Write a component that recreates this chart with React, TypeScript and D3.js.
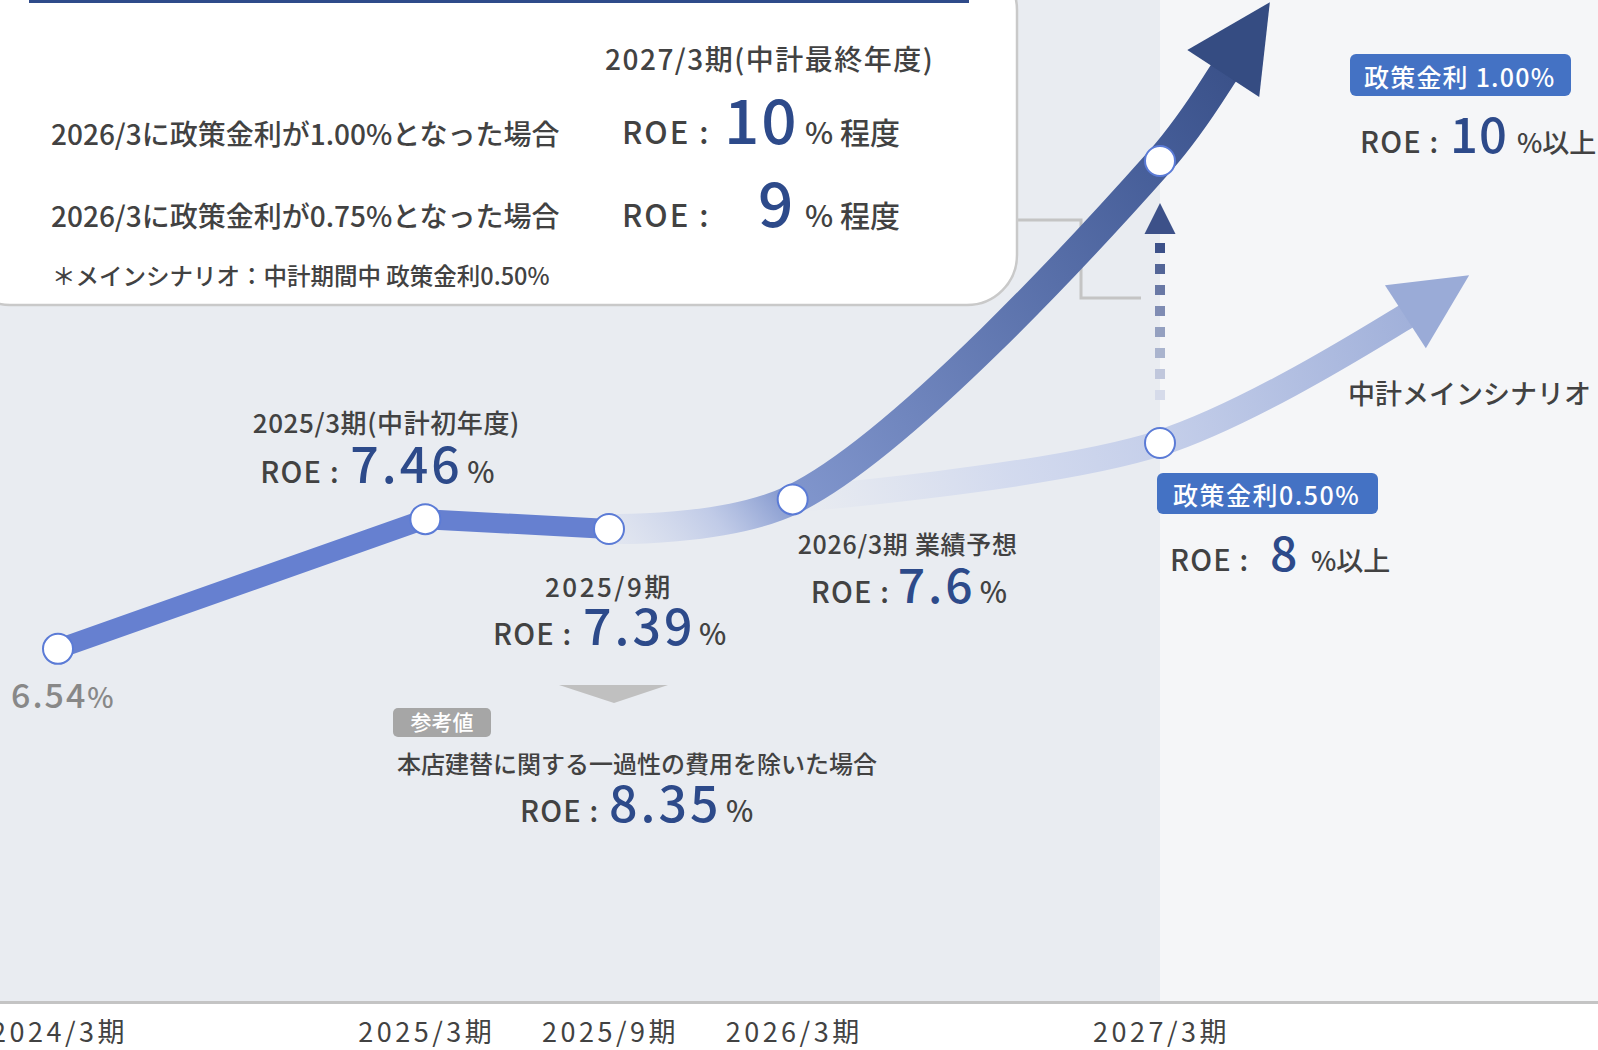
import React from 'react';
import * as d3 from 'd3';

// ---------- data ----------
const periodLabels = ['2024/3期', '2025/3期', '2025/9期', '2026/3期', '2027/3期'];
const periodMonths = [0, 12, 18, 24, 36]; // months since 2024/3
const actualRoe = [6.54, 7.46, 7.39]; // 2024/3, 2025/3, 2025/9
const forecastRoe = 7.6; // 2026/3 forecast
const mainTargetRoe = 8; // 2027/3, policy rate 0.50%
const upsideTargetRoe = 10; // 2027/3, policy rate 1.00%
const adjustedRoe = 8.35; // 2025/9 excluding one-off HQ rebuild costs
const scenarioRates = ['1.00%', '0.75%'];
const scenarioRoe = [10, 9];
const policyRateLabels = ['政策金利 1.00%', '政策金利0.50%'];

const W = 1598;
const H = 1050;
const FONT = '"Noto Sans CJK JP", "Noto Sans", sans-serif';
const TXT = '#424242';
const NUM = '#2d4a8a';

type Pt = [number, number];

function arrowGeom(from: Pt, at: Pt, bendDeg: number, baseLen: number, headBendDeg: number,
  headLen: number, headHalf: number) {
  const chord = Math.atan2(at[1] - from[1], at[0] - from[0]);
  const a = chord - (bendDeg * Math.PI) / 180;
  const base: Pt = [at[0] + baseLen * Math.cos(a), at[1] + baseLen * Math.sin(a)];
  const h = a - (headBendDeg * Math.PI) / 180;
  const tip: Pt = [base[0] + headLen * Math.cos(h), base[1] + headLen * Math.sin(h)];
  const nx = -Math.sin(h);
  const ny = Math.cos(h);
  const w1: Pt = [base[0] + nx * headHalf, base[1] + ny * headHalf];
  const w2: Pt = [base[0] - nx * headHalf, base[1] - ny * headHalf];
  const inner: Pt = [base[0] + 8 * Math.cos(h), base[1] + 8 * Math.sin(h)];
  return { base, tip, head: [tip, w1, w2] as Pt[], inner };
}

function frac(p: Pt, a: Pt, b: Pt) {
  const dx = b[0] - a[0];
  const dy = b[1] - a[1];
  return ((p[0] - a[0]) * dx + (p[1] - a[1]) * dy) / (dx * dx + dy * dy);
}

type RoeOpts = {
  sx: number; by: number; num: string; numDx: number; pctDx: number;
  numSize: number; numLs: number; pct: string; pctSize: number;
};

function RoeLine({ sx, by, num, numDx, pctDx, numSize, numLs, pct, pctSize }: RoeOpts) {
  return (
    <g fontFamily={FONT} fontWeight={500}>
      <text x={sx} y={by} fontSize={29} letterSpacing={1.2} fill={TXT}>ROE :</text>
      <text x={sx + numDx} y={by} fontSize={numSize} letterSpacing={numLs} fill={NUM}>{num}</text>
      <text x={sx + pctDx} y={by} fontSize={pctSize} fill={TXT}>{pct}</text>
    </g>
  );
}

export default function App() {
  const x = d3.scaleLinear().domain([0, 36]).range([58, 1160]);
  const y = d3.scaleLinear().domain([6, 10]).range([725, 161]);

  const P: Pt[] = actualRoe.map((v, i) => [x(periodMonths[i]), y(v)] as Pt);
  const P3: Pt = [x(periodMonths[3]), y(forecastRoe)];
  const Pd: Pt = [x(periodMonths[4]), y(upsideTargetRoe)];
  const Pl: Pt = [x(periodMonths[4]), y(mainTargetRoe)];
  const P2 = P[2];

  const curve = d3.line<Pt>().curve(d3.curveCatmullRom.alpha(0.5));

  const dark = arrowGeom(P3, Pd, 11.5, 108, 2.6, 85, 43);
  const light = arrowGeom(P3, Pl, 18.5, 276, 5.8, 76, 37.5);

  const darkPath = curve([P2, P3, Pd, dark.base, dark.inner]) || '';
  const lightPath = curve([P3, Pl, light.base, light.inner]) || '';
  const solidPath = d3.line<Pt>()(P) || '';

  const t3 = frac(P3, P2, dark.tip);
  const td = frac(Pd, P2, dark.tip);
  const tl = frac(Pl, P3, light.tip);

  // dotted arrow between the two 2027/3 points
  const triTop = Pd[1] + 42;
  const triBase = Pd[1] + 73;
  const sqStart = Pd[1] + 82;
  const sqEnd = Pl[1] - 39;
  const nSq = Math.max(1, Math.floor((sqEnd - sqStart - 10) / 21) + 1);
  const sqColor = d3.interpolateRgb('#3d5189', '#d6dbea');

  const xBase = 1002;
  const mainLabelX = Math.min(light.base[0] - 42, W - 250);

  return (
    <div style={{ position: 'absolute', left: 0, top: 0 }}>
      <svg width={W} height={H} viewBox={`0 0 ${W} ${H}`} style={{ display: 'block' }}>
        <defs>
          <linearGradient id="darkGrad" gradientUnits="userSpaceOnUse"
            x1={P2[0]} y1={P2[1]} x2={dark.tip[0]} y2={dark.tip[1]}>
            <stop offset={0} stopColor="#c9d2ec" stopOpacity={0.25} />
            <stop offset={t3 * 0.55} stopColor="#b3c0e4" stopOpacity={0.75} />
            <stop offset={t3} stopColor="#8196cd" stopOpacity={1} />
            <stop offset={td} stopColor="#455d98" stopOpacity={1} />
            <stop offset={1} stopColor="#344a80" stopOpacity={1} />
          </linearGradient>
          <linearGradient id="lightGrad" gradientUnits="userSpaceOnUse"
            x1={P3[0]} y1={P3[1]} x2={light.tip[0]} y2={light.tip[1]}>
            <stop offset={0} stopColor="#d3daee" stopOpacity={0} />
            <stop offset={0.3} stopColor="#d0d8ee" stopOpacity={0.9} />
            <stop offset={tl} stopColor="#c5cfea" stopOpacity={1} />
            <stop offset={1} stopColor="#98a9d6" stopOpacity={1} />
          </linearGradient>
        </defs>

        {/* backgrounds */}
        <rect x={0} y={0} width={W} height={H} fill="#ffffff" />
        <rect x={0} y={0} width={x(36)} height={xBase} fill="#e9ecf1" />
        <rect x={x(36)} y={0} width={W - x(36)} height={xBase} fill="#f5f6f8" />
        <rect x={0} y={xBase - 1} width={W} height={3} fill="#c4c4c4" />

        {/* x labels */}
        {periodLabels.map((l, i) => (
          <text key={l} x={x(periodMonths[i]) + 1.5} y={1042} textAnchor="middle" fontFamily={FONT}
            fontSize={27} letterSpacing={3.5} fill={TXT}>{l}</text>
        ))}

        {/* connector from the box */}
        <polyline points={`1017,220 1081,220 1081,298 1141,298`} fill="none" stroke="#c4c4c4" strokeWidth={3} />

        {/* main scenario arrow */}
        <path d={lightPath} fill="none" stroke="url(#lightGrad)" strokeWidth={26} />
        <polygon points={light.head.map((p) => p.join(',')).join(' ')} fill="#9aabd7" />

        {/* upside arrow */}
        <path d={darkPath} fill="none" stroke="url(#darkGrad)" strokeWidth={30} />
        <polygon points={dark.head.map((p) => p.join(',')).join(' ')} fill="#354c82" />

        {/* actual line */}
        <path d={solidPath} fill="none" stroke="#6680d0" strokeWidth={20} strokeLinejoin="round" />

        {/* dotted arrow */}
        <polygon points={`${Pd[0]},${triTop} ${Pd[0] - 15.5},${triBase} ${Pd[0] + 15.5},${triBase}`} fill="#3d5189" />
        {d3.range(nSq).map((i) => (
          <rect key={i} x={Pd[0] - 5} y={sqStart + i * 21} width={10} height={10}
            fill={sqColor(nSq > 1 ? i / (nSq - 1) : 0)} />
        ))}

        {/* points */}
        {[...P, P3, Pd, Pl].map((p, i) => (
          <circle key={i} cx={p[0]} cy={p[1]} r={15} fill="#ffffff" stroke="#5b7bd6" strokeWidth={2} />
        ))}

        {/* scenario box */}
        <rect x={-40} y={-40} width={1057} height={345} rx={50} fill="#ffffff" stroke="#c9c9c9" strokeWidth={2.5} />
        <rect x={29} y={0} width={940} height={3} fill="#2f4b8a" />
        <g fontFamily={FONT} fill={TXT} fontWeight={500}>
          <text x={605} y={70} fontSize={28} letterSpacing={1.5}>2027/3期(中計最終年度)</text>
          {scenarioRates.map((r, i) => (
            <text key={r} x={51} y={145 + i * 82} fontSize={28}>{`2026/3に政策金利が${r}となった場合`}</text>
          ))}
          <text x={52} y={285} fontSize={23.5}>＊メインシナリオ：中計期間中 政策金利0.50%</text>
        </g>
        {scenarioRoe.map((v, i) => (
          <g key={v} fontFamily={FONT} fontWeight={500}>
            <text x={622} y={144 + i * 83} fontSize={31} letterSpacing={2} fill={TXT}>ROE :</text>
            <text x={i === 0 ? 724 : 758} y={144 + i * 83} fontSize={62} letterSpacing={2} fill={NUM}>{v}</text>
            <text x={805} y={144 + i * 83} fontSize={30} fill={TXT}>% 程度</text>
          </g>
        ))}

        {/* 2024/3 label */}
        <text x={P[0][0] - 47} y={P[0][1] + 59} fontFamily={FONT} fill="#888888" fontWeight={500}
          fontSize={34} letterSpacing={2}>
          {actualRoe[0].toFixed(2)}<tspan fontSize={28} letterSpacing={0}>%</tspan>
        </text>

        {/* 2025/3 label */}
        <text x={P[1][0] - 39} y={P[1][1] - 86} textAnchor="middle" fontFamily={FONT} fontSize={26}
          letterSpacing={0.6} fill={TXT} fontWeight={500}>2025/3期(中計初年度)</text>
        <RoeLine sx={P[1][0] - 165} by={P[1][1] - 36} num={actualRoe[1].toFixed(2)} numDx={90} pctDx={207}
          numSize={50} numLs={3} pct="%" pctSize={29} />

        {/* 2025/9 label */}
        <text x={P2[0] - 64} y={P2[1] + 68} fontFamily={FONT} fontSize={26} letterSpacing={2.5} fill={TXT}
          fontWeight={500}>2025/9期</text>
        <RoeLine sx={P2[0] - 116} by={P2[1] + 116} num={actualRoe[2].toFixed(2)} numDx={90} pctDx={206}
          numSize={50} numLs={3} pct="%" pctSize={29} />

        {/* adjusted note */}
        <polygon points={`${P2[0] - 50},${P2[1] + 156} ${P2[0] + 59},${P2[1] + 156} ${P2[0] + 5},${P2[1] + 174}`} fill="#c0c0c0" />
        <rect x={P2[0] - 216} y={P2[1] + 179} width={98} height={29} rx={5} fill="#a6a6a6" />
        <text x={P2[0] - 167} y={P2[1] + 201} textAnchor="middle" fontFamily={FONT} fontSize={21}
          fill="#ffffff" fontWeight={500}>参考値</text>
        <text x={P2[0] - 212} y={P2[1] + 244} fontFamily={FONT} fontSize={24} fill={TXT}
          fontWeight={500}>本店建替に関する一過性の費用を除いた場合</text>
        <RoeLine sx={P2[0] - 89} by={P2[1] + 293} num={adjustedRoe.toFixed(2)} numDx={89} pctDx={206}
          numSize={50} numLs={3} pct="%" pctSize={29} />

        {/* 2026/3 label */}
        <text x={P3[0] + 5} y={P3[1] + 55} fontFamily={FONT} fontSize={25} letterSpacing={0.7} fill={TXT}
          fontWeight={500}>2026/3期 業績予想</text>
        <RoeLine sx={P3[0] + 18} by={P3[1] + 104} num={String(forecastRoe)} numDx={87} pctDx={169}
          numSize={48} numLs={3} pct="%" pctSize={29} />

        {/* 2027/3 upside label */}
        <rect x={Pd[0] + 190} y={Pd[1] - 107} width={221} height={42} rx={6} fill="#4472c4" />
        <text x={Pd[0] + 204} y={Pd[1] - 74} fontFamily={FONT} fontSize={25} letterSpacing={1.2} fill="#ffffff"
          fontWeight={500}>{policyRateLabels[0]}</text>
        <RoeLine sx={Pd[0] + 200} by={Pd[1] - 8} num={String(upsideTargetRoe)} numDx={90} pctDx={157}
          numSize={49} numLs={1} pct="%以上" pctSize={27} />

        {/* 2027/3 main label */}
        <rect x={Pl[0] - 3} y={Pl[1] + 30} width={221} height={41} rx={6} fill="#4472c4" />
        <text x={Pl[0] + 13} y={Pl[1] + 62} fontFamily={FONT} fontSize={25} letterSpacing={1.5} fill="#ffffff"
          fontWeight={500}>{policyRateLabels[1]}</text>
        <RoeLine sx={Pl[0] + 10} by={Pl[1] + 128} num={String(mainTargetRoe)} numDx={100} pctDx={141}
          numSize={48} numLs={0} pct="%以上" pctSize={27} />

        <text x={mainLabelX} y={light.base[1] + 87} fontFamily={FONT} fontSize={27} fill={TXT}
          fontWeight={500}>中計メインシナリオ</text>
      </svg>
    </div>
  );
}
